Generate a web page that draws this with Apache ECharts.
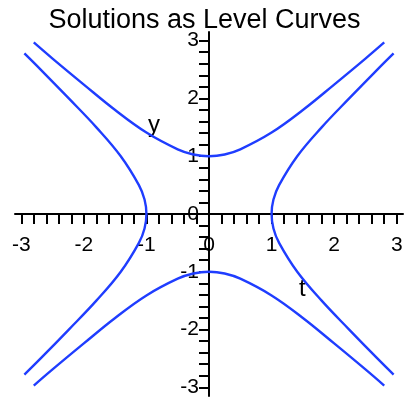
<!DOCTYPE html>
<html>
<head>
<meta charset="utf-8">
<script src="https://cdn.jsdelivr.net/npm/echarts@6/dist/echarts.min.js"></script>
<style>
  html, body { margin: 0; padding: 0; background: #ffffff; }
  #chart { width: 409px; height: 402px; }
</style>
</head>
<body>
<div id="chart"></div>
<script>
// Level curves y^2 - t^2 = 1 (upper/lower) and t^2 - y^2 = 1 (left/right), as [t, y] pairs
const upperBranch = [
  [-2.80, 2.97], [-2.50, 2.69], [-2.00, 2.24], [-1.50, 1.80], [-1.00, 1.41],
  [-0.50, 1.12], [-0.25, 1.03], [0.00, 1.00], [0.25, 1.03], [0.50, 1.12],
  [1.00, 1.41], [1.50, 1.80], [2.00, 2.24], [2.50, 2.69], [2.80, 2.97]
];
const lowerBranch = [
  [-2.80, -2.97], [-2.50, -2.69], [-2.00, -2.24], [-1.50, -1.80], [-1.00, -1.41],
  [-0.50, -1.12], [-0.25, -1.03], [0.00, -1.00], [0.25, -1.03], [0.50, -1.12],
  [1.00, -1.41], [1.50, -1.80], [2.00, -2.24], [2.50, -2.69], [2.80, -2.97]
];
const rightBranch = [
  [2.95, -2.78], [2.69, -2.50], [2.24, -2.00], [1.80, -1.50], [1.41, -1.00],
  [1.12, -0.50], [1.03, -0.25], [1.00, 0.00], [1.03, 0.25], [1.12, 0.50],
  [1.41, 1.00], [1.80, 1.50], [2.24, 2.00], [2.69, 2.50], [2.95, 2.78]
];
const leftBranch = [
  [-2.95, -2.78], [-2.69, -2.50], [-2.24, -2.00], [-1.80, -1.50], [-1.41, -1.00],
  [-1.12, -0.50], [-1.03, -0.25], [-1.00, 0.00], [-1.03, 0.25], [-1.12, 0.50],
  [-1.41, 1.00], [-1.80, 1.50], [-2.24, 2.00], [-2.69, 2.50], [-2.95, 2.78]
];

// Axis tick labels
const tLabels = [-3, -2, -1, 0, 1, 2, 3];
const yLabels = [-3, -2, -1, 0, 1, 2, 3];

// Minor tick marks every 0.2 from -3 to 3
const tickMarks = [];
for (let k = -15; k <= 15; k++) tickMarks.push(Math.round(k * 0.2 * 10) / 10);

const FONT = "'Liberation Sans', Arial, sans-serif";
const CURVE = '#1f3dff';

// Plot area and axis ranges
const GRID = { left: 15, top: 32, width: 388, height: 364 };
const T_RANGE = [-3.1, 3.1];
const Y_RANGE = [-3.15, 3.15];

// Axes cross at the origin: shift each axis from the grid edge to zero
const xAxisShift = -GRID.height * (0 - Y_RANGE[0]) / (Y_RANGE[1] - Y_RANGE[0]);
const yAxisShift = -GRID.width * (0 - T_RANGE[0]) / (T_RANGE[1] - T_RANGE[0]);

const chart = echarts.init(document.getElementById('chart'), null, { renderer: 'canvas' });

function branch(data) {
  return {
    type: 'line',
    data: data,
    smooth: 0.4,
    showSymbol: false,
    symbol: 'none',
    clip: true,
    lineStyle: { color: CURVE, width: 2.4 },
    silent: true,
    animation: false
  };
}

const axisCommon = {
  type: 'value',
  axisLine: { show: true, onZero: false, lineStyle: { color: '#000', width: 2 } },
  axisTick: { show: true, inside: false, length: 10, customValues: tickMarks,
              lineStyle: { color: '#000', width: 2 } },
  splitLine: { show: false },
  minorTick: { show: false }
};

chart.setOption({
  animation: false,
  backgroundColor: '#ffffff',
  title: {
    text: 'Solutions as Level Curves',
    left: 'center',
    top: 2,
    textStyle: { fontFamily: FONT, fontSize: 27, fontWeight: 'normal', color: '#000' }
  },
  grid: Object.assign({ containLabel: false, outerBoundsMode: 'none' }, GRID),
  xAxis: Object.assign({}, axisCommon, {
    position: 'bottom',
    offset: xAxisShift,
    min: T_RANGE[0], max: T_RANGE[1],
    axisLabel: { customValues: tLabels, margin: 21, fontFamily: FONT, fontSize: 21, color: '#000' }
  }),
  yAxis: Object.assign({}, axisCommon, {
    position: 'left',
    offset: yAxisShift,
    min: Y_RANGE[0], max: Y_RANGE[1],
    axisLabel: { customValues: yLabels, margin: 10, fontFamily: FONT, fontSize: 21, color: '#000' }
  }),
  series: [branch(upperBranch), branch(lowerBranch), branch(rightBranch), branch(leftBranch)]
});

// Axis names placed in data coordinates
const axisNames = [
  { text: 'y', at: [-0.88, 1.54] },
  { text: 't', at: [1.49, -1.31] }
];
chart.setOption({
  graphic: axisNames.map(function (n) {
    const p = chart.convertToPixel({ gridIndex: 0 }, n.at);
    return {
      type: 'text', x: p[0], y: p[1], silent: true,
      style: { text: n.text, fontFamily: FONT, fontSize: 24, fill: '#000',
               align: 'center', verticalAlign: 'middle' }
    };
  })
});
</script>
</body>
</html>
